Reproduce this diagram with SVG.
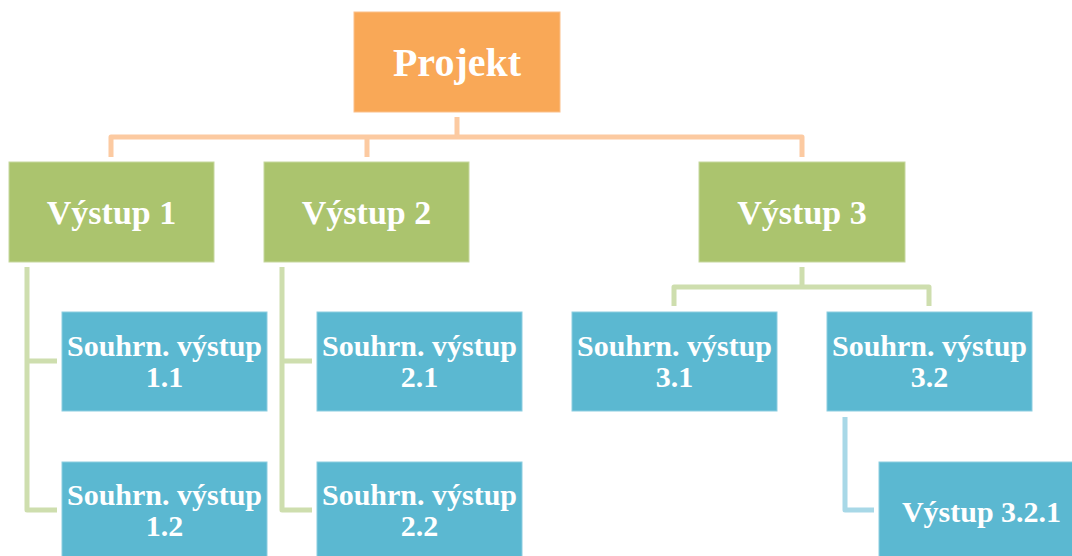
<svg xmlns="http://www.w3.org/2000/svg" width="1072" height="556" viewBox="0 0 1072 556">
  <style>
    .box { stroke-width: 1; }
    .top { fill: #F9A857; stroke: #FBC08A; }
    .lvl1 { fill: #ABC46E; stroke: #C6D79E; }
    .lvl2 { fill: #5BB8D1; stroke: #8CCDE0; }
    .lbl { font-family: "Liberation Serif", "Times New Roman", serif; font-weight: bold; fill: #FFFFFF; text-anchor: middle; }
    .c { fill: none; stroke-width: 5; stroke-linejoin: round; stroke-linecap: butt; }
    .c-or { stroke: #FCCAA1; }
    .c-gr { stroke: #CEDEAE; }
    .c-bl { stroke: #A8D8E7; }
  </style>

  <g id="connectors">
    <path class="c c-or" d="M457 117 V137 M111 157 V137 H802 V157 M367 137 V157"/>
    <path class="c c-gr" d="M27 267 V510 H57 M27 361 H57"/>
    <path class="c c-gr" d="M282 267 V510 H312 M282 361 H312"/>
    <path class="c c-gr" d="M802 267 V287 M674 306 V287 H929 V306"/>
    <path class="c c-bl" d="M845 417 V510 H874"/>
  </g>

  <g id="projekt">
    <rect class="box top" x="354" y="12" width="206" height="100"/>
    <text class="lbl" x="457" y="76" font-size="40">Projekt</text>
  </g>

  <g id="vystup-1">
    <rect class="box lvl1" x="9" y="162" width="205" height="100"/>
    <text class="lbl" x="111.5" y="224" font-size="34">Výstup 1</text>
  </g>
  <g id="vystup-2">
    <rect class="box lvl1" x="264" y="162" width="205" height="100"/>
    <text class="lbl" x="366.5" y="224" font-size="34">Výstup 2</text>
  </g>
  <g id="vystup-3">
    <rect class="box lvl1" x="699" y="162" width="206" height="100"/>
    <text class="lbl" x="802" y="224" font-size="34">Výstup 3</text>
  </g>

  <g id="souhrn-1-1">
    <rect class="box lvl2" x="62" y="312" width="205" height="99"/>
    <text class="lbl" x="164.5" y="356" font-size="30">Souhrn. výstup</text>
    <text class="lbl" x="164.5" y="387" font-size="30">1.1</text>
  </g>
  <g id="souhrn-1-2">
    <rect class="box lvl2" x="62" y="462" width="205" height="100"/>
    <text class="lbl" x="164.5" y="505" font-size="30">Souhrn. výstup</text>
    <text class="lbl" x="164.5" y="536" font-size="30">1.2</text>
  </g>
  <g id="souhrn-2-1">
    <rect class="box lvl2" x="317" y="312" width="205" height="99"/>
    <text class="lbl" x="419.5" y="356" font-size="30">Souhrn. výstup</text>
    <text class="lbl" x="419.5" y="387" font-size="30">2.1</text>
  </g>
  <g id="souhrn-2-2">
    <rect class="box lvl2" x="317" y="462" width="205" height="100"/>
    <text class="lbl" x="419.5" y="505" font-size="30">Souhrn. výstup</text>
    <text class="lbl" x="419.5" y="536" font-size="30">2.2</text>
  </g>
  <g id="souhrn-3-1">
    <rect class="box lvl2" x="572" y="312" width="205" height="99"/>
    <text class="lbl" x="674.5" y="356" font-size="30">Souhrn. výstup</text>
    <text class="lbl" x="674.5" y="387" font-size="30">3.1</text>
  </g>
  <g id="souhrn-3-2">
    <rect class="box lvl2" x="827" y="312" width="205" height="99"/>
    <text class="lbl" x="929.5" y="356" font-size="30">Souhrn. výstup</text>
    <text class="lbl" x="929.5" y="387" font-size="30">3.2</text>
  </g>
  <g id="vystup-3-2-1">
    <rect class="box lvl2" x="879" y="462" width="205" height="100"/>
    <text class="lbl" x="981.5" y="522" font-size="30">Výstup 3.2.1</text>
  </g>
</svg>
